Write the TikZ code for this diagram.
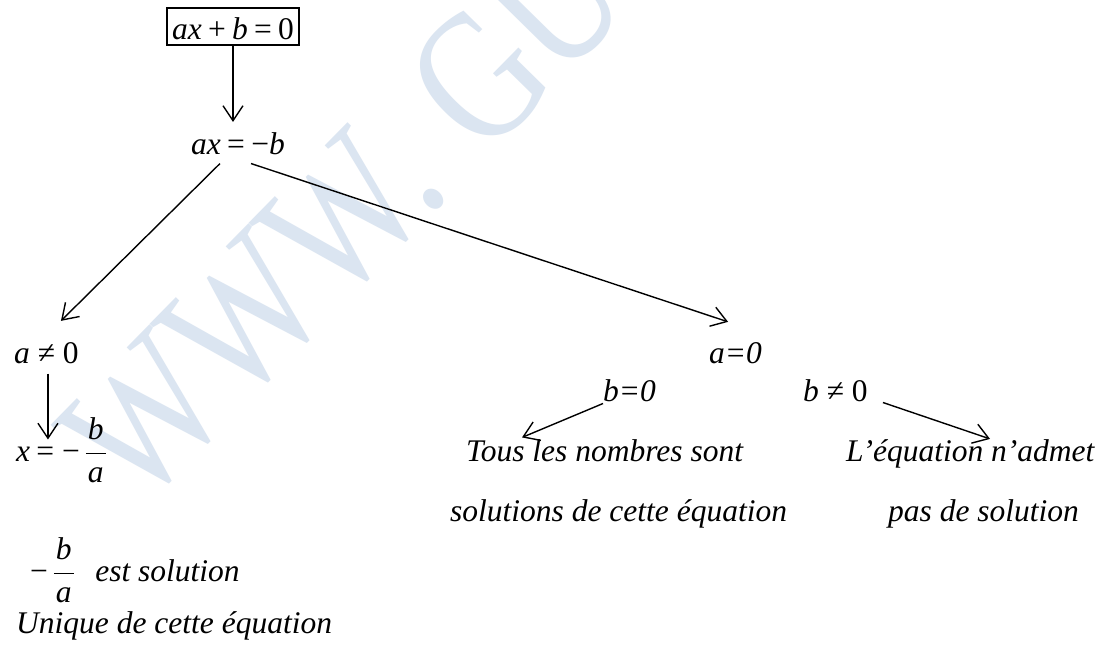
\RequirePackage{fix-cm}
\documentclass[tikz,border=0pt]{standalone}
\usepackage{amsmath}
\usepackage{fontspec}
\setmainfont{Liberation Serif}
\usetikzlibrary{arrows.meta}
\definecolor{wmblue}{RGB}{219,229,241}
\newcommand{\vi}[1]{\textit{#1}}
\newcommand{\gp}{\hspace{0.2em}}
\newcommand{\tfr}[2]{\ensuremath{\dfrac{\kern2pt\text{\itshape #1}\kern2pt}{\text{\itshape #2}}}}
\tikzset{
  lbl/.style={font=\fontsize{31.5}{37.8}\selectfont, inner sep=0pt},
  arr/.style={line width=1.4pt, -{Straight Barb[length=15pt,width=20pt,line width=1.4pt]}},
  wm/.style={text=wmblue, inner sep=0pt, font=\fontsize{150}{150}\selectfont}
}
\begin{document}
\begin{tikzpicture}[x=1pt,y=-1pt]
\useasboundingbox[fill=white] (0,0) rectangle (1102,648);
% watermark
\node[wm, anchor=base west, rotate=45.5, yscale=1.25] (wmark) at (138,512) {WWW.\kern0.3em GU};
% nodes
\node[lbl, draw, line width=1.4pt, inner xsep=5pt, anchor=base] (eq) at (233,39)
  {\rule[-6pt]{0pt}{37pt}\vi{ax}\gp+\gp\vi{b}\gp=\gp0};
\node[lbl, anchor=base] (ax) at (238,154) {\vi{ax}\gp=\gp−\vi{b}};
\node[lbl, anchor=base west] (aneq) at (14,363) {\vi{a}\hspace{0.25em}≠\hspace{0.25em}0};
\node[lbl, anchor=base west] (xsol) at (16,461) {\vi{x}\gp=\hspace{0.25em}−\hspace{0.15em}\tfr{b}{a}};
\node[lbl, anchor=base west] (estsol) at (30,581) {−\hspace{0.15em}\tfr{b}{a}\hspace{0.65em}\vi{est solution}};
\node[lbl, anchor=base west] (uniq) at (16,633) {\vi{Unique de cette équation}};
\node[lbl, anchor=base west] (azero) at (709,363) {\vi{a=0}};
\node[lbl, anchor=base west] (bzero) at (603,401) {\vi{b=0}};
\node[lbl, anchor=base west] (bneq) at (803,401) {\vi{b}\hspace{0.25em}≠\hspace{0.25em}0};
\node[lbl, anchor=base west] (tous) at (466,461) {\vi{Tous les nombres sont}};
\node[lbl, anchor=base west] (sols) at (450,521) {\vi{solutions de cette équation}};
\node[lbl, anchor=base west] (leq) at (846,461) {\vi{L’équation n’admet}};
\node[lbl, anchor=base west] (pas) at (888,521) {\vi{pas de solution}};
% connectors
\draw[arr] (eq.south) -- ([yshift=10pt]eq.south |- ax.north);
\draw[arr] ([xshift=-18pt,yshift=-9pt]ax.south) -- ([xshift=14.5pt,yshift=21pt]aneq.north);
\draw[arr] ([xshift=13pt,yshift=-9pt]ax.south) -- ([xshift=-7.5pt,yshift=20pt]azero.north);
\draw[arr] ([xshift=1.5pt,yshift=-10pt]aneq.south) -- ([xshift=1.5pt,yshift=-76pt]aneq.south);
\draw[arr] ([yshift=-2pt]bzero.south west) -- ([xshift=56pt,yshift=1.5pt]tous.north west);
\draw[arr] ([xshift=15pt,yshift=-1pt]bneq.south east) -- ([xshift=144pt]leq.north west);
\end{tikzpicture}
\end{document}
